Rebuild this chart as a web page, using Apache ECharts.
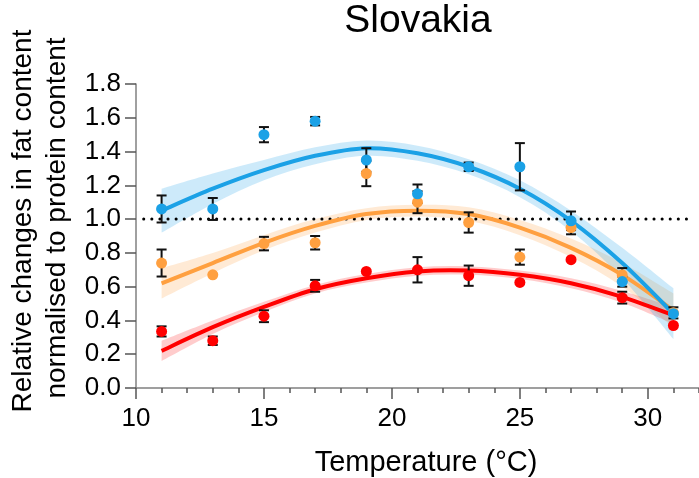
<!DOCTYPE html>
<html><head><meta charset="utf-8">
<script src="https://cdn.jsdelivr.net/npm/echarts@6/dist/echarts.min.js"></script>
<style>html,body{margin:0;padding:0;background:#fff}#c{width:699px;height:478px}</style>
</head><body><div id="c"></div>
<script>
const temps = [11,13,15,17,19,21,23,25,27,29,31];
const blueMean = [1.06,1.06,1.50,1.58,1.35,1.15,1.31,1.31,0.99,0.63,0.44];
const blueErr  = [0.08,0.065,0.045,0.025,0.07,0.055,0.025,0.14,0.055,0.03,null];
const orangeMean = [0.74,0.67,0.855,0.86,1.27,1.10,0.98,0.775,0.95,0.67,0.445];
const orangeErr  = [0.08,null,0.04,0.04,0.075,0.065,0.06,0.045,0.04,0.04,0.033];
const redMean = [0.335,0.28,0.425,0.605,0.69,0.70,0.665,0.625,0.76,0.535,0.37];
const redErr  = [0.03,0.025,0.035,0.035,null,0.075,0.06,null,null,0.035,null];
const fitT = [11,13,15,17,19,21,23,25,27,29,31];
const blueFit = [1.05,1.18,1.29,1.375,1.42,1.39,1.31,1.18,0.99,0.74,0.44];
const blueCI  = [0.13,0.09,0.06,0.05,0.045,0.045,0.045,0.05,0.06,0.09,0.15];
const orangeFit = [0.62,0.74,0.86,0.96,1.03,1.05,1.03,0.95,0.83,0.67,0.46];
const orangeCI  = [0.09,0.06,0.045,0.04,0.035,0.035,0.04,0.045,0.055,0.07,0.10];
const redFit = [0.22,0.36,0.48,0.585,0.65,0.69,0.695,0.67,0.62,0.54,0.43];
const redCI  = [0.06,0.04,0.03,0.025,0.025,0.025,0.025,0.025,0.03,0.035,0.05];
const refLine = [[10.3,1.0],[31.7,1.0]];
const xMajorTicks = [10,15,20,25,30];
const titleText = 'Slovakia';
const xName = 'Temperature (°C)';
const yName1 = 'Relative changes in fat content';
const yName2 = 'normalised to protein content';

const BLUE='#1ba1e6', ORANGE='#ffa040', RED='#ff0000';
const FONT='"Liberation Sans", Arial, sans-serif';

// Catmull-Rom -> cubic Bezier path through pixel points (rendering only)
function smoothPath(pts, startCmd){
  let d = (startCmd||'M') + pts[0][0] + ' ' + pts[0][1];
  for(let i=0;i<pts.length-1;i++){
    const p0=pts[Math.max(i-1,0)], p1=pts[i], p2=pts[i+1], p3=pts[Math.min(i+2,pts.length-1)];
    const c1=[p1[0]+(p2[0]-p0[0])/6, p1[1]+(p2[1]-p0[1])/6];
    const c2=[p2[0]-(p3[0]-p1[0])/6, p2[1]-(p3[1]-p1[1])/6];
    d += ' C'+c1[0]+' '+c1[1]+' '+c2[0]+' '+c2[1]+' '+p2[0]+' '+p2[1];
  }
  return d;
}
function bandSeries(fit, ci, color, opacity){
  return {type:'custom', z:1, silent:true, data:[[fitT[0], fit[0]]],
    renderItem:function(params, api){
      const up = fitT.map((t,i)=>api.coord([t, fit[i]+ci[i]]));
      const lo = fitT.map((t,i)=>api.coord([t, fit[i]-ci[i]])).reverse();
      const d = smoothPath(up,'M') + ' ' + smoothPath(lo,'L') + ' Z';
      return {type:'path', shape:{pathData:d}, style:{fill:color, opacity:opacity}};
    }};
}
function fitSeries(fit, color){
  return {type:'custom', z:5, silent:true, data:[[fitT[0], fit[0]]],
    renderItem:function(params, api){
      const pts = fitT.map((t,i)=>api.coord([t, fit[i]]));
      return {type:'path', shape:{pathData:smoothPath(pts,'M')},
        style:{fill:null, stroke:color, lineWidth:4}};
    }};
}
function errSeries(mean, err){
  const d=[]; temps.forEach((t,i)=>{ if(err[i]!=null) d.push([t, mean[i], err[i]]); });
  return {type:'custom', z:7, data:d, renderItem:function(params, api){
    const x=api.value(0), y=api.value(1), e=api.value(2);
    const top=api.coord([x,y+e]), bot=api.coord([x,y-e]);
    const w=5, st={stroke:'#111', lineWidth:2};
    return {type:'group', children:[
      {type:'line', shape:{x1:top[0],y1:top[1],x2:bot[0],y2:bot[1]}, style:st},
      {type:'line', shape:{x1:top[0]-w,y1:top[1],x2:top[0]+w,y2:top[1]}, style:st},
      {type:'line', shape:{x1:bot[0]-w,y1:bot[1],x2:bot[0]+w,y2:bot[1]}, style:st}
    ]};
  }};
}
function ptSeries(mean, color){
  return {type:'scatter', z:8, symbolSize:11, itemStyle:{color:color, opacity:1},
    data: temps.map((t,i)=>[t, mean[i]])};
}

const chart = echarts.init(document.getElementById('c'), null, {renderer:'canvas'});
chart.setOption({
  animation:false,
  graphic:[
    {type:'text', x:418, y:21, style:{text:titleText, font:'39px '+FONT, fill:'#000', textAlign:'center', textVerticalAlign:'middle'}},
    {type:'text', x:426, y:463, style:{text:xName, font:'29px '+FONT, fill:'#000', textAlign:'center', textVerticalAlign:'middle'}},
    {type:'text', x:23, y:221, rotation:Math.PI/2, style:{text:yName1, font:'28px '+FONT, fill:'#000', textAlign:'center', textVerticalAlign:'middle'}},
    {type:'text', x:57, y:218, rotation:Math.PI/2, style:{text:yName2, font:'28px '+FONT, fill:'#000', textAlign:'center', textVerticalAlign:'middle'}}
  ],
  grid:{left:136, right:0, top:84, bottom:90, outerBoundsMode:'none', containLabel:false},
  xAxis:[{type:'value', min:10, max:32, interval:1,
    axisLine:{lineStyle:{color:'#808080', width:1.5}},
    axisTick:{length:5, lineStyle:{color:'#555', width:1.5}},
    axisLabel:{fontFamily:FONT, fontSize:26, color:'#000', margin:18,
      formatter:v=> xMajorTicks.includes(v)? String(v):''},
    splitLine:{show:false}},
   {type:'value', min:10, max:32, position:'bottom',
    axisLine:{show:false}, axisLabel:{show:false}, splitLine:{show:false},
    axisTick:{show:true, length:11, customValues:xMajorTicks, lineStyle:{color:'#555', width:1.5}}}],
  yAxis:{type:'value', min:0, max:1.8, interval:0.2,
    axisLine:{show:true, lineStyle:{color:'#808080', width:1.5}},
    axisTick:{show:true, length:11, lineStyle:{color:'#555', width:1.5}},
    axisLabel:{fontFamily:FONT, fontSize:26, color:'#000', margin:15,
      formatter:v=>v.toFixed(1)},
    splitLine:{show:false}},
  series:[
    bandSeries(redFit, redCI, RED, 0.2),
    bandSeries(orangeFit, orangeCI, ORANGE, 0.22),
    bandSeries(blueFit, blueCI, BLUE, 0.22),
    {type:'line', symbol:'none', z:4, data:refLine, silent:true,
     lineStyle:{color:'#000', width:3, type:[0.1,8], cap:'round'}},
    fitSeries(redFit, RED), fitSeries(orangeFit, ORANGE), fitSeries(blueFit, BLUE),
    errSeries(redMean, redErr), errSeries(orangeMean, orangeErr), errSeries(blueMean, blueErr),
    ptSeries(redMean, RED), ptSeries(orangeMean, ORANGE), ptSeries(blueMean, BLUE)
  ]
});
</script></body></html>
